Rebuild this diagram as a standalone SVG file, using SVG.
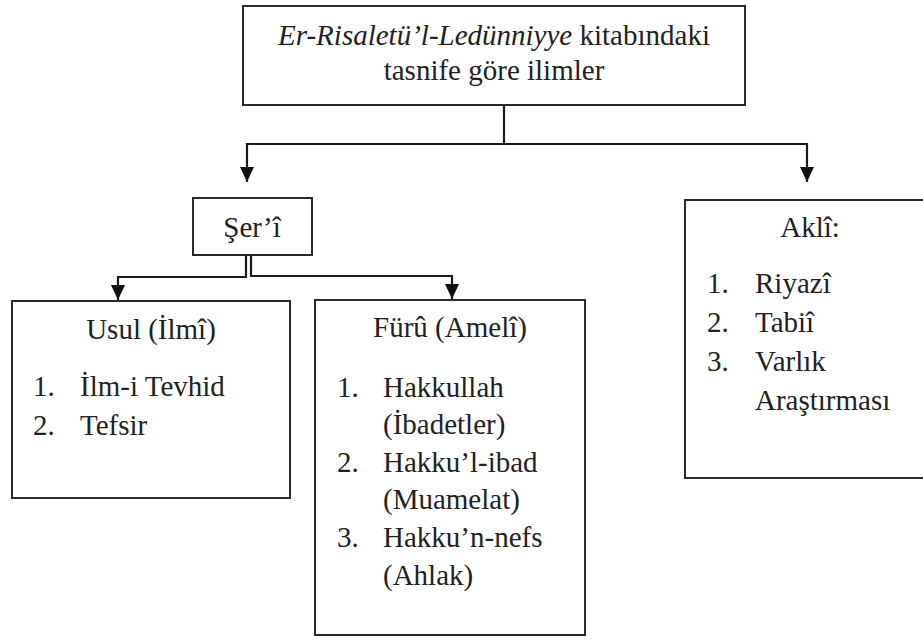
<svg xmlns="http://www.w3.org/2000/svg" width="923" height="640" viewBox="0 0 923 640" font-family="'Liberation Serif', Tinos, 'Times New Roman', 'DejaVu Serif', serif">
<style>
.box{fill:#fff;stroke:#2a2a2a;stroke-width:2}
.c{fill:none;stroke:#1a1a1a;stroke-width:2.2}
text{font-family:'Liberation Serif', Tinos, 'Times New Roman', 'DejaVu Serif', serif;font-size:29px;fill:#222}
.m{text-anchor:middle}
</style>
<defs>
<marker id="ah" markerUnits="userSpaceOnUse" markerWidth="16" markerHeight="14" viewBox="0 0 16 14" refX="15" refY="7" orient="auto">
<path d="M0,0 L15,7 L0,14 z" fill="#111"/>
</marker>
</defs>
<rect width="923" height="640" fill="#fff"/>
<g id="connectors">
<path class="c" d="M504 105 V144 H247 V182" marker-end="url(#ah)"/>
<path class="c" d="M504 144 H807 V182" marker-end="url(#ah)"/>
<path class="c" d="M246 255 V277 H118 V300" marker-end="url(#ah)"/>
<path class="c" d="M251 255 V276 H452 V299" marker-end="url(#ah)"/>
</g>
<g id="root">
<rect class="box" x="243" y="6" width="502" height="99"/>
<text class="m" x="494" y="45"><tspan font-style="italic">Er-Risaletü’l-Ledünniyye</tspan> kitabındaki</text>
<text class="m" x="494" y="80">tasnife göre ilimler</text>
</g>
<g id="seri">
<rect class="box" x="193" y="198" width="119" height="57"/>
<text class="m" x="252" y="237">Şer’î</text>
</g>
<g id="akli">
<rect class="box" x="685" y="200" width="250" height="278"/>
<text class="m" x="810" y="237">Aklî:</text>
<text x="707" y="293">1.</text><text x="755" y="293">Riyazî</text>
<text x="707" y="332">2.</text><text x="755" y="332">Tabiî</text>
<text x="707" y="371">3.</text><text x="755" y="371">Varlık</text>
<text x="755" y="410">Araştırması</text>
</g>
<g id="usul">
<rect class="box" x="12" y="301" width="278" height="197"/>
<text class="m" x="151" y="339">Usul (İlmî)</text>
<text x="33" y="396">1.</text><text x="80" y="396">İlm-i Tevhid</text>
<text x="33" y="435">2.</text><text x="80" y="435">Tefsir</text>
</g>
<g id="furu">
<rect class="box" x="315" y="300" width="270" height="335"/>
<text class="m" x="450" y="337">Fürû (Amelî)</text>
<text x="337" y="397">1.</text><text x="383" y="397">Hakkullah</text>
<text x="383" y="434">(İbadetler)</text>
<text x="337" y="472">2.</text><text x="383" y="472">Hakku’l-ibad</text>
<text x="383" y="509">(Muamelat)</text>
<text x="337" y="547">3.</text><text x="383" y="547">Hakku’n-nefs</text>
<text x="383" y="585">(Ahlak)</text>
</g>
</svg>
